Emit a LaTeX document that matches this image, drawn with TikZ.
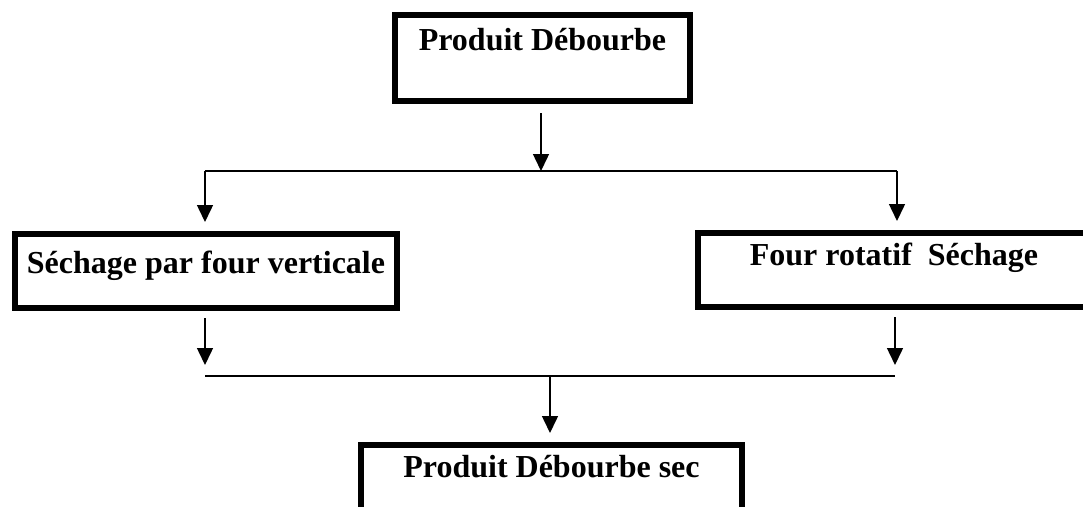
\documentclass[tikz,border=0pt]{standalone}
\usepackage{fontspec}
\setmainfont{Liberation Serif}
\usetikzlibrary{arrows.meta}
\begin{document}
\begin{tikzpicture}[x=1pt,y=-1pt,
  stagebox/.style={draw, line width=6pt, inner sep=0pt, align=center,
    font=\bfseries\fontsize{32}{38}\selectfont},
  link/.style={line width=1.5pt},
  flow/.style={link, -{Triangle[length=17pt,width=16pt]}}]
\useasboundingbox (0,0) rectangle (1083,506);
\clip (0,0) rectangle (1083,506);

% process stages
\node[stagebox, minimum width=295pt, text height=35pt, text depth=51pt]
  (top) at (542.5,58) {Produit Débourbe};
\node[stagebox, minimum width=382pt, text height=39pt, text depth=35pt]
  (left) at (206,271) {Séchage par four verticale};
\node[stagebox, minimum width=392pt, text height=32pt, text depth=42pt]
  (right) at (894,270) {Four rotatif\ \ Séchage};
\node[stagebox, minimum width=381pt, text height=32pt, text depth=53pt]
  (bot) at (551.5,487.5) {Produit Débourbe sec};

% junction points
\coordinate (split) at (541,171);
\coordinate (sl) at (205,171);
\coordinate (sr) at (897,171);
\coordinate (jl) at (205,376);
\coordinate (jr) at (895,376);
\coordinate (jm) at (550,376);

% split into the two drying routes
\draw[flow, shorten <=9pt] (top.south -| split) -- (split);
\draw[link] (sl) -- (sr);
\draw[flow, shorten >=9pt] (sl) -- (sl |- left.north);
\draw[flow, shorten >=9pt] (sr) -- (sr |- right.north);

% merge into the dried product
\draw[flow, shorten <=7pt, shorten >=11pt] (jl |- left.south) -- (jl);
\draw[flow, shorten <=7pt, shorten >=11pt] (jr |- right.south) -- (jr);
\draw[link] (jl) -- (jr);
\draw[flow, shorten >=9pt] (jm) -- (jm |- bot.north);
\end{tikzpicture}
\end{document}
